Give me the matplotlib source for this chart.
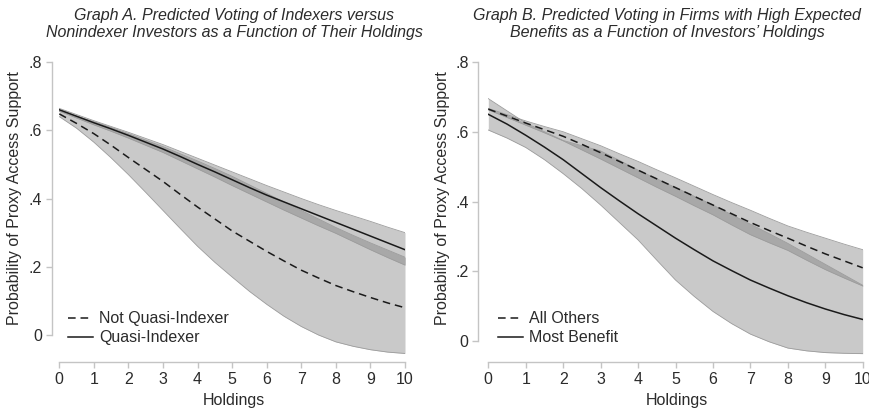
import matplotlib
matplotlib.use("Agg")
import matplotlib.pyplot as plt
import numpy as np

plt.rcParams['font.family'] = ['Liberation Sans', 'DejaVu Sans']

holdings = np.arange(0, 10.5, 0.5)

# Graph A
not_quasi = [0.648, 0.62, 0.59, 0.556, 0.52, 0.485, 0.45, 0.412, 0.375, 0.34, 0.305,
             0.275, 0.245, 0.217, 0.19, 0.167, 0.145, 0.127, 0.11, 0.094, 0.08]
not_quasi_lo = [0.64, 0.606, 0.565, 0.519, 0.47, 0.418, 0.365, 0.312, 0.26, 0.213, 0.17,
                0.128, 0.09, 0.055, 0.025, 0.0, -0.02, -0.033, -0.043, -0.05, -0.054]
not_quasi_hi = [0.656, 0.641, 0.625, 0.608, 0.59, 0.571, 0.552, 0.531, 0.51, 0.488, 0.465,
                0.44, 0.415, 0.39, 0.365, 0.34, 0.315, 0.292, 0.27, 0.249, 0.228]
quasi = [0.66, 0.641, 0.622, 0.604, 0.585, 0.565, 0.545, 0.523, 0.50, 0.478, 0.455,
         0.432, 0.41, 0.39, 0.37, 0.35, 0.33, 0.31, 0.29, 0.27, 0.25]
quasi_lo = [0.656, 0.636, 0.616, 0.597, 0.577, 0.556, 0.535, 0.511, 0.487, 0.463, 0.438,
            0.414, 0.39, 0.366, 0.343, 0.32, 0.298, 0.274, 0.25, 0.227, 0.205]
quasi_hi = [0.664, 0.646, 0.628, 0.611, 0.594, 0.576, 0.558, 0.538, 0.518, 0.498, 0.478,
            0.458, 0.438, 0.419, 0.40, 0.382, 0.365, 0.349, 0.333, 0.316, 0.30]

# Graph B
others = [0.665, 0.645, 0.625, 0.606, 0.587, 0.564, 0.54, 0.515, 0.49, 0.465, 0.44,
          0.415, 0.39, 0.365, 0.34, 0.317, 0.295, 0.272, 0.25, 0.23, 0.21]
others_lo = [0.663, 0.641, 0.619, 0.597, 0.574, 0.548, 0.522, 0.495, 0.468, 0.441, 0.415,
             0.388, 0.362, 0.333, 0.305, 0.282, 0.26, 0.232, 0.205, 0.181, 0.158]
others_hi = [0.667, 0.649, 0.631, 0.615, 0.60, 0.58, 0.56, 0.537, 0.515, 0.491, 0.468,
             0.444, 0.42, 0.397, 0.375, 0.352, 0.33, 0.312, 0.295, 0.278, 0.262]
benefit = [0.65, 0.622, 0.59, 0.556, 0.52, 0.48, 0.44, 0.402, 0.365, 0.33, 0.295,
           0.262, 0.23, 0.202, 0.175, 0.152, 0.13, 0.11, 0.092, 0.076, 0.062]
benefit_lo = [0.605, 0.582, 0.555, 0.52, 0.48, 0.437, 0.39, 0.34, 0.29, 0.232, 0.175,
              0.128, 0.085, 0.05, 0.02, -0.002, -0.02, -0.028, -0.033, -0.035, -0.036]
benefit_hi = [0.695, 0.66, 0.625, 0.60, 0.575, 0.56, 0.545, 0.518, 0.49, 0.465, 0.44,
              0.415, 0.39, 0.362, 0.335, 0.308, 0.28, 0.25, 0.22, 0.19, 0.16]

yticks = [0, 0.2, 0.4, 0.6, 0.8]
ytick_labels = ['0', '.2', '.4', '.6', '.8']

light = '#c9c9c9'
dark = '#a8a8a8'
edge = '#9c9c9c'
axis_col = '#c4c4c4'
text_col = '#2b2b2b'


def draw_panel(ax, dash, dash_lo, dash_hi, solid, solid_lo, solid_hi,
               dash_name, solid_name, ybottom, spine_off):
    x = holdings
    dash_lo, dash_hi = np.array(dash_lo), np.array(dash_hi)
    solid_lo, solid_hi = np.array(solid_lo), np.array(solid_hi)
    ax.fill_between(x, dash_lo, dash_hi, color=light, lw=0)
    ax.fill_between(x, solid_lo, solid_hi, color=light, lw=0)
    lo_o = np.maximum(dash_lo, solid_lo)
    hi_o = np.minimum(dash_hi, solid_hi)
    ax.fill_between(x, lo_o, hi_o, where=hi_o > lo_o, interpolate=True,
                    color=dark, lw=0)
    for b in (dash_lo, dash_hi, solid_lo, solid_hi):
        ax.plot(x, b, color=edge, lw=0.6)
    ax.plot([10, 10], [min(dash_lo[-1], solid_lo[-1]), max(dash_hi[-1], solid_hi[-1])],
            color=edge, lw=0.6)
    ax.plot(x, dash, color='#1a1a1a', lw=1.1, ls=(0, (5, 3.2)), label=dash_name)
    ax.plot(x, solid, color='#1a1a1a', lw=1.1, label=solid_name)

    ax.set_xlim(0, 10)
    ax.set_ylim(ybottom, 0.8)
    ax.set_xticks(range(0, 11))
    ax.set_yticks(yticks)
    ax.set_yticklabels(ytick_labels)
    for s in ('top', 'right'):
        ax.spines[s].set_visible(False)
    ax.spines['left'].set_position(('outward', spine_off))
    ax.spines['left'].set_bounds(0, 0.8)
    ax.spines['bottom'].set_bounds(0, 10)
    for s in ('left', 'bottom'):
        ax.spines[s].set_color(axis_col)
        ax.spines[s].set_linewidth(1.0)
    ax.tick_params(colors=axis_col, labelcolor=text_col, labelsize=11.5,
                   length=4, width=1.0, pad=3)
    ax.patch.set_visible(False)

    ax.legend(loc='center left', bbox_to_anchor=(0.025, 0.113), frameon=False,
              fontsize=11.5, handlelength=1.6, handletextpad=0.35,
              labelspacing=0.25, borderpad=0, borderaxespad=0,
              labelcolor=text_col)


fig = plt.figure(figsize=(8.7, 4.12), dpi=100)
axA = fig.add_axes([59.3 / 870, 50 / 412, 345.7 / 870, 300 / 412])
axB = fig.add_axes([488.3 / 870, 50 / 412, 374.4 / 870, 300 / 412])

draw_panel(axA, not_quasi, not_quasi_lo, not_quasi_hi, quasi, quasi_lo, quasi_hi,
           'Not Quasi-Indexer', 'Quasi-Indexer', -0.079, 5.5)
draw_panel(axB, others, others_lo, others_hi, benefit, benefit_lo, benefit_hi,
           'All Others', 'Most Benefit', -0.06, 7.2)

title_font = dict(family=['Liberation Sans Narrow', 'Liberation Sans', 'DejaVu Sans'],
                  style='italic', fontsize=11.5, color=text_col, ha='center',
                  va='center', linespacing=1.2)
fig.text(234 / 870, 1 - 24 / 412,
         'Graph A. Predicted Voting of Indexers versus\n'
         'Nonindexer Investors as a Function of Their Holdings', **title_font)
fig.text(667 / 870, 1 - 24 / 412,
         'Graph B. Predicted Voting in Firms with High Expected\n'
         'Benefits as a Function of Investors\u2019 Holdings', **title_font)

for xc in (15, 443):
    fig.text(xc / 870, 1 - 198 / 412, 'Probability of Proxy Access Support',
             rotation=90, ha='center', va='center', fontsize=11.5, color=text_col)
for xc in (234, 677):
    fig.text(xc / 870, 1 - 401 / 412, 'Holdings', ha='center', va='center',
             fontsize=11.5, color=text_col)

fig.savefig('out.png', dpi=100)
